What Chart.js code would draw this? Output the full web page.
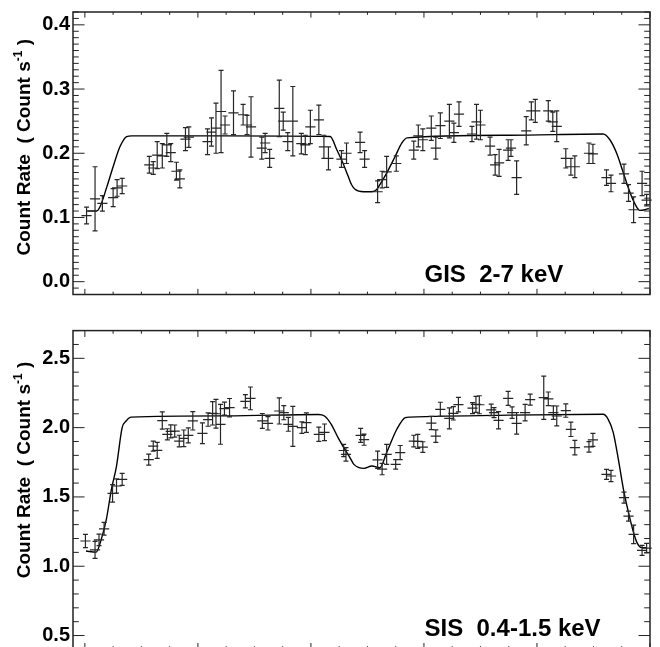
<!DOCTYPE html>
<html>
<head>
<meta charset="utf-8">
<script src="https://cdn.jsdelivr.net/npm/chart.js@4.4.0/dist/chart.umd.min.js"></script>
<style>
    html, body { margin: 0; padding: 0; background: #fff; overflow: hidden; }
    #wrap { position: relative; width: 660px; height: 647px; overflow: hidden; }
    canvas { position: absolute; left: 0; }
    #gisChart { top: 0; }
    #sisChart { top: 300px; }
</style>
</head>
<body>
<div id="wrap">
    <canvas id="gisChart" width="660" height="300"></canvas>
    <canvas id="sisChart" width="660" height="352"></canvas>
</div>
<script>
    // ---- GIS 2-7 keV (top panel) ----
    const gisPhase = [0.003, 0.018, 0.031, 0.050, 0.057, 0.066,
        0.114, 0.121, 0.128, 0.137, 0.145, 0.152, 0.162, 0.168, 0.178, 0.184,
        0.217, 0.224, 0.232, 0.241, 0.248, 0.263, 0.280, 0.287, 0.294, 0.313, 0.319, 0.327,
        0.344, 0.351, 0.359, 0.368, 0.383, 0.390, 0.399, 0.414, 0.423, 0.431,
        0.454, 0.463, 0.487, 0.495, 0.518, 0.526, 0.534, 0.551,
        0.582, 0.590, 0.598, 0.613, 0.621, 0.629, 0.645, 0.653, 0.662,
        0.685, 0.693, 0.700, 0.717, 0.726, 0.733, 0.749, 0.754, 0.764,
        0.781, 0.790, 0.797, 0.820, 0.828, 0.835, 0.851, 0.860, 0.867,
        0.892, 0.899, 0.923, 0.931, 0.954, 0.962, 0.971, 0.986, 0.994];
    const gisRate = [0.103, 0.129, 0.122, 0.131, 0.146, 0.149,
        0.182, 0.177, 0.197, 0.196, 0.213, 0.201, 0.172, 0.160, 0.222, 0.225,
        0.218, 0.233, 0.239, 0.265, 0.244, 0.263, 0.260, 0.244, 0.241, 0.208, 0.216, 0.192,
        0.270, 0.250, 0.218, 0.250, 0.215, 0.213, 0.241, 0.252, 0.210, 0.192,
        0.191, 0.200, 0.217, 0.191, 0.140, 0.159, 0.171, 0.184,
        0.205, 0.227, 0.221, 0.239, 0.208, 0.243, 0.250, 0.232, 0.261,
        0.230, 0.249, 0.244, 0.211, 0.182, 0.185, 0.205, 0.208, 0.162,
        0.235, 0.266, 0.266, 0.266, 0.249, 0.242, 0.192, 0.179, 0.179,
        0.200, 0.199, 0.162, 0.153, 0.168, 0.138, 0.112, 0.153, 0.127];
    const gisErr = [0.013, 0.050, 0.012, 0.014, 0.013, 0.012,
        0.013, 0.010, 0.021, 0.019, 0.018, 0.014, 0.014, 0.014, 0.018, 0.016,
        0.020, 0.022, 0.039, 0.064, 0.014, 0.034, 0.016, 0.015, 0.047, 0.017, 0.015, 0.014,
        0.044, 0.014, 0.014, 0.054, 0.016, 0.015, 0.026, 0.023, 0.018, 0.018,
        0.013, 0.016, 0.016, 0.013, 0.017, 0.013, 0.024, 0.012,
        0.014, 0.017, 0.017, 0.019, 0.017, 0.020, 0.026, 0.015, 0.019,
        0.012, 0.027, 0.023, 0.014, 0.016, 0.021, 0.016, 0.013, 0.026,
        0.022, 0.014, 0.018, 0.016, 0.015, 0.024, 0.015, 0.013, 0.017,
        0.016, 0.015, 0.012, 0.013, 0.015, 0.013, 0.020, 0.019, 0.009];
    const gisModelPhase = [0.004, 0.021, 0.027, 0.039, 0.050, 0.062, 0.074, 0.083, 0.250,
        0.434, 0.446, 0.457, 0.466, 0.472, 0.478, 0.493, 0.508, 0.516, 0.522, 0.534, 0.549,
        0.561, 0.570, 0.750, 0.917, 0.929, 0.941, 0.953, 0.965, 0.974, 0.982, 0.991, 0.998];
    const gisModelRate = [0.110, 0.110, 0.117, 0.148, 0.179, 0.210, 0.226, 0.227, 0.227,
        0.226, 0.205, 0.184, 0.164, 0.151, 0.144, 0.140, 0.140, 0.143, 0.151, 0.169, 0.195,
        0.216, 0.224, 0.228, 0.230, 0.221, 0.200, 0.169, 0.138, 0.120, 0.111, 0.112, 0.114];
    const gisTicks = [0.0, 0.1, 0.2, 0.3, 0.4];

    // ---- SIS 0.4-1.5 keV (bottom panel) ----
    const sisPhase = [0.001, 0.018, 0.025, 0.034, 0.049, 0.056, 0.066,
        0.113, 0.121, 0.128, 0.137, 0.146, 0.152, 0.159, 0.167, 0.175, 0.183, 0.191,
        0.208, 0.218, 0.226, 0.232, 0.240, 0.247, 0.256, 0.284, 0.293,
        0.314, 0.324, 0.344, 0.352, 0.360, 0.368, 0.384, 0.392, 0.414, 0.424,
        0.458, 0.462, 0.488, 0.494, 0.518, 0.526, 0.534, 0.550, 0.558,
        0.582, 0.589, 0.598, 0.613, 0.621, 0.629, 0.645, 0.652, 0.661,
        0.686, 0.692, 0.698, 0.719, 0.724, 0.732, 0.749, 0.756, 0.764,
        0.779, 0.788, 0.812, 0.820, 0.829, 0.835, 0.851, 0.860, 0.867,
        0.892, 0.899, 0.923, 0.931, 0.954, 0.962, 0.971, 0.986, 0.994];
    const sisRate = [1.182, 1.118, 1.190, 1.270, 1.526, 1.579, 1.627,
        1.769, 1.867, 1.836, 2.051, 1.952, 1.973, 1.975, 1.903, 1.923, 1.944, 2.049,
        1.959, 2.058, 2.103, 2.100, 2.024, 2.137, 2.144, 2.190, 2.211,
        2.048, 2.031, 2.120, 2.108, 2.024, 2.009, 2.000, 2.036, 1.952, 1.966,
        1.835, 1.807, 1.944, 1.913, 1.768, 1.701, 1.807, 1.735, 1.820,
        1.903, 1.901, 1.860, 2.033, 1.939, 2.132, 2.067, 2.103, 2.166,
        2.141, 2.168, 2.165, 2.128, 2.108, 2.053, 2.211, 2.108, 2.031,
        2.108, 2.202, 2.216, 2.208, 2.108, 2.084, 2.123, 1.988, 1.856,
        1.861, 1.912, 1.663, 1.651, 1.495, 1.362, 1.230, 1.115, 1.131];
    const sisErr = [0.048, 0.061, 0.042, 0.046, 0.063, 0.051, 0.043,
        0.040, 0.036, 0.058, 0.062, 0.040, 0.047, 0.044, 0.042, 0.060, 0.054, 0.066,
        0.075, 0.048, 0.084, 0.104, 0.144, 0.047, 0.066, 0.048, 0.082,
        0.054, 0.048, 0.094, 0.051, 0.050, 0.144, 0.042, 0.070, 0.051, 0.060,
        0.044, 0.048, 0.051, 0.040, 0.062, 0.041, 0.072, 0.034, 0.051,
        0.042, 0.051, 0.038, 0.048, 0.045, 0.051, 0.076, 0.048, 0.052,
        0.040, 0.058, 0.065, 0.042, 0.036, 0.062, 0.051, 0.041, 0.078,
        0.060, 0.040, 0.156, 0.049, 0.049, 0.072, 0.048, 0.052, 0.052,
        0.038, 0.047, 0.036, 0.040, 0.039, 0.036, 0.067, 0.036, 0.034];
    const sisModelPhase = [0.002, 0.020, 0.029, 0.038, 0.047, 0.056, 0.066, 0.073, 0.082, 0.250,
        0.413, 0.424, 0.436, 0.448, 0.460, 0.469, 0.476, 0.494, 0.508, 0.522, 0.534, 0.552,
        0.567, 0.575, 0.750, 0.917, 0.926, 0.935, 0.944, 0.953, 0.962, 0.971, 0.977, 0.985, 0.994];
    const sisModelRate = [1.110, 1.102, 1.194, 1.338, 1.555, 1.723, 2.000, 2.048, 2.076, 2.085,
        2.095, 2.084, 2.024, 1.928, 1.843, 1.784, 1.735, 1.706, 1.723, 1.711, 1.820, 1.988,
        2.072, 2.076, 2.090, 2.096, 2.060, 1.964, 1.771, 1.555, 1.387, 1.242, 1.170, 1.134, 1.134];
    const sisTicks = [0.5, 1.0, 1.5, 2.0, 2.5];

    // phase bin half width (horizontal bar of each cross)
    const binHalfWidth = 0.009;

    const FONT = '"Liberation Sans", Arial, Helvetica, sans-serif';

    // IDL 스타일: 오차막대, 안쪽으로 향한 눈금, 축 제목, 패널 라벨
    const idlPlot = {
        id: 'idlPlot',
        afterDatasetsDraw(chart) {
            const ctx = chart.ctx;
            const xs = chart.scales.x, ys = chart.scales.y;
            chart.data.datasets.forEach((ds) => {
                if (!ds.errorBars) return;
                ctx.save();
                ctx.strokeStyle = '#262626';
                ctx.lineWidth = 1.2;
                ctx.beginPath();
                ds.data.forEach((p, j) => {
                    const px = xs.getPixelForValue(p.x);
                    const py = ys.getPixelForValue(p.y);
                    const x0 = xs.getPixelForValue(p.x - binHalfWidth);
                    const x1 = xs.getPixelForValue(p.x + binHalfWidth);
                    const yHi = ys.getPixelForValue(p.y + ds.errorBars[j]);
                    const yLo = ys.getPixelForValue(p.y - ds.errorBars[j]);
                    ctx.moveTo(x0, py); ctx.lineTo(x1, py);
                    ctx.moveTo(px, yHi); ctx.lineTo(px, yLo);
                    ctx.moveTo(px - 2.5, yHi); ctx.lineTo(px + 2.5, yHi);
                    ctx.moveTo(px - 2.5, yLo); ctx.lineTo(px + 2.5, yLo);
                });
                ctx.stroke();
                ctx.restore();
            });
        },
        afterDraw(chart, args, o) {
            const ctx = chart.ctx, a = chart.chartArea;
            const xs = chart.scales.x, ys = chart.scales.y;
            const w = a.right - a.left, h = a.bottom - a.top;
            ctx.save();
            ctx.strokeStyle = '#222';
            ctx.lineWidth = 1;
            ctx.beginPath();
            // x ticks (top + bottom), minor = half length
            const xMaj = 0.02 * h;
            for (let k = Math.ceil(xs.min / o.xMinor - 1e-6); k * o.xMinor <= xs.max + 1e-9; k++) {
                const len = (k % o.xPer === 0) ? xMaj : xMaj / 2;
                const px = xs.getPixelForValue(k * o.xMinor);
                ctx.moveTo(px, a.bottom); ctx.lineTo(px, a.bottom - len);
                ctx.moveTo(px, a.top); ctx.lineTo(px, a.top + len);
            }
            // y ticks (left + right)
            const yMaj = 0.02 * w;
            for (let k = Math.ceil(ys.min / o.yMinor - 1e-6); k * o.yMinor <= ys.max + 1e-9; k++) {
                const len = (k % o.yPer === 0) ? yMaj : yMaj / 2;
                const py = ys.getPixelForValue(k * o.yMinor);
                ctx.moveTo(a.left, py); ctx.lineTo(a.left + len, py);
                ctx.moveTo(a.right, py); ctx.lineTo(a.right - len, py);
            }
            ctx.stroke();
            // frame
            ctx.lineWidth = 1.5;
            ctx.strokeRect(a.left, a.top, w, h);

            // y axis title with superscript
            ctx.fillStyle = '#000';
            ctx.translate(o.titleX, a.top + h / 2 + o.titleShift);
            ctx.rotate(-Math.PI / 2);
            const big = 'bold 19px ' + FONT, small = 'bold 12px ' + FONT;
            const p1 = 'Count Rate  ( Count s', sup = '-1', p2 = ' )';
            ctx.font = big;
            const w1 = ctx.measureText(p1).width, w3 = ctx.measureText(p2).width;
            ctx.font = small;
            const w2 = ctx.measureText(sup).width;
            let tx = -(w1 + w2 + w3) / 2;
            ctx.textBaseline = 'alphabetic';
            ctx.font = big; ctx.fillText(p1, tx, 0); tx += w1;
            ctx.font = small; ctx.fillText(sup, tx, -8); tx += w2;
            ctx.font = big; ctx.fillText(p2, tx, 0);
            ctx.restore();

            // panel label
            ctx.save();
            ctx.fillStyle = '#000';
            ctx.font = 'bold 24px ' + FONT;
            ctx.textAlign = 'left';
            ctx.textBaseline = 'alphabetic';
            ctx.fillText(o.label, a.left + 351.5, a.bottom - 13);
            ctx.restore();
        }
    };

    function toPoints(xs, ys) {
        return xs.map((v, i) => ({ x: v, y: ys[i] }));
    }

    function createPanel(id, cfg) {
        var ctx = document.getElementById(id).getContext('2d');
        return new Chart(ctx, {
            data: {
                datasets: [{
                    type: 'scatter',
                    data: toPoints(cfg.phase, cfg.rate),
                    errorBars: cfg.err,
                    pointRadius: 0,
                    showLine: false
                }, {
                    type: 'line',
                    data: toPoints(cfg.modelPhase, cfg.modelRate),
                    borderColor: '#000',
                    borderWidth: 1.4,
                    pointRadius: 0,
                    fill: false,
                    cubicInterpolationMode: 'monotone'
                }]
            },
            options: {
                responsive: false,
                animation: false,
                events: [],
                layout: { padding: cfg.padding },
                scales: {
                    x: {
                        type: 'linear',
                        display: false,
                        min: -0.021,
                        max: 1.0
                    },
                    y: {
                        type: 'linear',
                        min: cfg.yMin,
                        max: cfg.yMax,
                        grid: { display: false, drawTicks: false },
                        border: { display: false },
                        afterBuildTicks: (s) => { s.ticks = cfg.ticks.map(v => ({ value: v })); },
                        afterFit: (s) => { s.width = 73; s.paddingTop = 0; s.paddingBottom = 0; },
                        ticks: {
                            color: '#000',
                            padding: 3,
                            font: { family: FONT, size: 20, weight: 'bold' },
                            callback: (v) => Number(v).toFixed(1)
                        }
                    }
                },
                plugins: {
                    legend: { display: false },
                    tooltip: { enabled: false },
                    idlPlot: {
                        label: cfg.label,
                        xMinor: 0.05, xPer: 4,
                        yMinor: cfg.yMinor, yPer: cfg.yPer,
                        titleX: 30, titleShift: cfg.titleShift
                    }
                }
            },
            plugins: [idlPlot]
        });
    }

    createPanel('gisChart', {
        phase: gisPhase, rate: gisRate, err: gisErr,
        modelPhase: gisModelPhase, modelRate: gisModelRate,
        ticks: gisTicks, yMin: -0.02, yMax: 0.42, yMinor: 0.01, yPer: 10,
        padding: { left: 0, top: 12, right: 10, bottom: 5.5 },
        label: 'GIS  2-7 keV', titleShift: -6
    });

    createPanel('sisChart', {
        phase: sisPhase, rate: sisRate, err: sisErr,
        modelPhase: sisModelPhase, modelRate: sisModelRate,
        ticks: sisTicks, yMin: 0.4, yMax: 2.7, yMinor: 0.1, yPer: 5,
        padding: { left: 0, top: 30.6, right: 10, bottom: 2.6 },
        label: 'SIS  0.4-1.5 keV', titleShift: -20
    });
</script>
</body>
</html>
